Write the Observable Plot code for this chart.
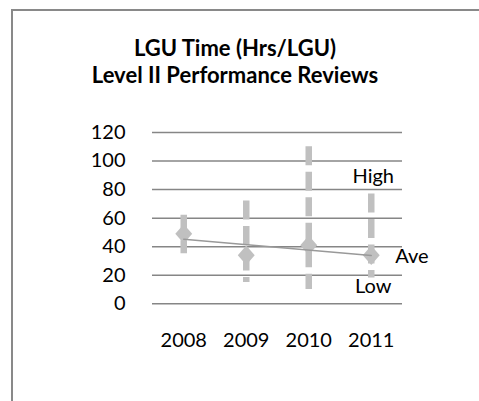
<!DOCTYPE html>
<html><head><meta charset="utf-8">
<script src="https://cdn.jsdelivr.net/npm/d3@7"></script>
<script src="https://cdn.jsdelivr.net/npm/@observablehq/plot@0.6"></script>
<style>
body{margin:0;background:#fff;}
#wrap{position:relative;width:479px;height:401px;overflow:hidden;font-family:Lato,sans-serif;background:#fff;}
#frame{position:absolute;left:11px;top:9px;width:480px;height:400px;border-left:2px solid #898989;border-top:2px solid #898989;}
#title{position:absolute;left:0;width:470px;top:35px;text-align:center;font-weight:bold;font-size:22px;line-height:26.6px;color:#000;}
#chart{position:absolute;left:0;top:0;}
</style></head>
<body>
<div id="wrap">
  <div id="frame"></div>
  <div id="chart"></div>
  <div id="title">LGU Time (Hrs/LGU)<br>Level II Performance Reviews</div>
</div>
<script>
const years = [2008, 2009, 2010, 2011];
const high = [62, 72, 110, 77];
const low = [35, 15, 10, 18];
const ave = [49, 34, 41, 34];
const yTicks = [0, 20, 40, 60, 80, 100, 120];
const seriesLabels = {high: "High", ave: "Ave", low: "Low"};

const data = years.map((year, i) => ({year, high: high[i], low: low[i], ave: ave[i]}));
const last = [data[data.length - 1]];

const diamond = {
  draw(ctx, size) {
    const h = Math.sqrt(size) * 0.684;
    const w = h * 0.87;
    ctx.moveTo(0, -h); ctx.lineTo(w, 0); ctx.lineTo(0, h); ctx.lineTo(-w, 0); ctx.closePath();
  }
};

const chart = Plot.plot({
  width: 479, height: 401,
  marginLeft: 152, marginRight: 77, marginTop: 132, marginBottom: 97.7,
  style: {fontFamily: "Lato, sans-serif", fontSize: "20px", color: "#000", background: "transparent"},
  x: {type: "linear", domain: [2007.5, 2011.5], ticks: years, tickFormat: "d", tickSize: 0, tickPadding: 29, label: null},
  y: {domain: [0, 120], ticks: yTicks, tickSize: 0, tickPadding: 27, label: null},
  marks: [
    Plot.ruleY(yTicks, {stroke: "#868686", strokeWidth: 1.5, strokeOpacity: 1}),
    Plot.ruleX(data, {x: "year", y1: "high", y2: "low", stroke: "#c0c0c0", strokeWidth: 6.5, strokeDasharray: "19,6.5"}),
    Plot.dot(data, {x: "year", y: "ave", symbol: diamond, r: 8, fill: "#c0c0c0", stroke: "none"}),
    Plot.linearRegressionY(data, {x: "year", y: "ave", stroke: "#999", strokeWidth: 1.5, ci: 0}),
    Plot.text(last, {x: "year", y: "high", text: () => seriesLabels.high, dx: 2, dy: -17, fill: "#000"}),
    Plot.text(last, {x: "year", y: "ave", text: () => seriesLabels.ave, textAnchor: "start", dx: 24, dy: 1, fill: "#000"}),
    Plot.text(last, {x: "year", y: "low", text: () => seriesLabels.low, dx: 2, dy: 8, fill: "#000"})
  ]
});
document.getElementById("chart").appendChild(chart);
</script>
</body></html>
